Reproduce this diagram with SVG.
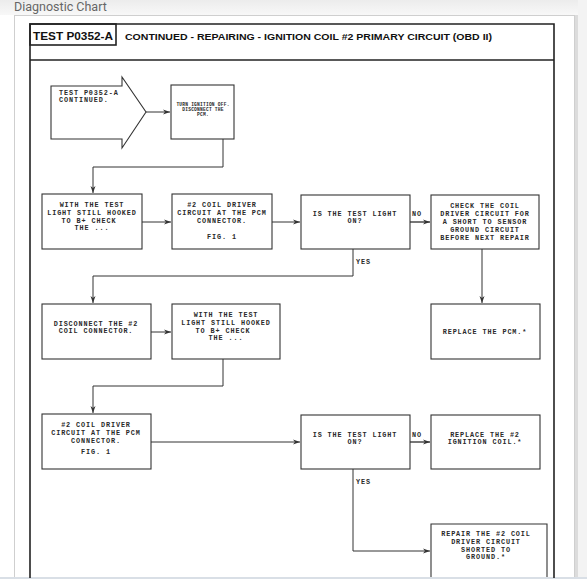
<svg xmlns="http://www.w3.org/2000/svg" width="587" height="579" viewBox="0 0 587 579">
<defs>
<linearGradient id="topbg" x1="0" y1="0" x2="0" y2="1">
<stop offset="0" stop-color="#ececec"/>
<stop offset="1" stop-color="#f8f8f8"/>
</linearGradient>
<marker id="ah" markerWidth="8" markerHeight="6" refX="7" refY="3" orient="auto" markerUnits="userSpaceOnUse">
<path d="M0,0.5 L7,3 L0,5.5 L2,3 Z" fill="#333"/>
</marker>
</defs>
<style>
.box{fill:#fff;stroke:#333;stroke-width:1.1}
.t{font-family:"Liberation Mono","DejaVu Sans Mono",monospace;font-size:6.8px;letter-spacing:0.9px;font-weight:bold;fill:#2a2a2a;text-anchor:middle}
.tl{font-family:"Liberation Mono","DejaVu Sans Mono",monospace;font-size:6.8px;letter-spacing:0.9px;font-weight:bold;fill:#2a2a2a}
.ts{font-family:"Liberation Mono","DejaVu Sans Mono",monospace;font-size:4.6px;letter-spacing:0.2px;font-weight:bold;fill:#2a2a2a;text-anchor:middle}
.c{fill:none;stroke:#333;stroke-width:1}
.cn{fill:none;stroke:#555;stroke-width:1.6}
.frame{fill:none;stroke:#222;stroke-width:1.6}
</style>
<!-- page background -->
<rect x="0" y="0" width="587" height="579" fill="#ffffff"/>
<rect x="0" y="0" width="587" height="15" fill="url(#topbg)"/>
<rect x="578" y="0" width="9" height="579" fill="#f3f3f3"/>
<rect x="14.5" y="15.5" width="560" height="570" fill="#fff" stroke="#cfcfcf" stroke-width="1"/>
<rect x="575" y="15" width="3" height="564" fill="#dcdcdc"/>
<rect x="0" y="577" width="587" height="2" fill="#d9dfe6"/>
<text x="14" y="10.5" font-family="Roboto,'Noto Sans',sans-serif" font-size="12.5" fill="#666">Diagnostic Chart</text>

<!-- chart frame -->
<g id="frame">
<path class="frame" d="M30,578 V24 H554 V578"/>
<line class="frame" x1="30" y1="60" x2="554" y2="60"/>
<rect x="30" y="24" width="86" height="21" fill="none" stroke="#222" stroke-width="1.6"/>
<text x="33" y="40" font-family="'Liberation Sans',Arial,sans-serif" font-weight="bold" font-size="11" textLength="80" lengthAdjust="spacingAndGlyphs" fill="#111">TEST P0352-A</text>
<text x="125" y="39.5" font-family="'Liberation Sans',Arial,sans-serif" font-weight="bold" font-size="8.6" textLength="367" lengthAdjust="spacingAndGlyphs" fill="#111">CONTINUED - REPAIRING - IGNITION COIL #2 PRIMARY CIRCUIT (OBD II)</text>
</g>

<!-- connectors -->
<g id="connectors">
<path class="c" d="M146,112 H170" marker-end="url(#ah)"/>
<path class="c" d="M223,139 V167 H93 V193" marker-end="url(#ah)"/>
<path class="c" d="M142,222 H171" marker-end="url(#ah)"/>
<path class="c" d="M272,222 H300" marker-end="url(#ah)"/>
<path class="cn" d="M410,222 H430" marker-end="url(#ah)"/>
<path class="c" d="M353,249 V276 H93 V303" marker-end="url(#ah)"/>
<path class="c" d="M482,249 V303" marker-end="url(#ah)"/>
<path class="c" d="M151,332 H171" marker-end="url(#ah)"/>
<path class="c" d="M223,359 V386 H93 V413" marker-end="url(#ah)"/>
<path class="c" d="M151,442 H300" marker-end="url(#ah)"/>
<path class="cn" d="M410,442 H430" marker-end="url(#ah)"/>
<path class="c" d="M353,469 V551 H430" marker-end="url(#ah)"/>
<text class="tl" x="412" y="216">NO</text>
<text class="tl" x="412" y="437">NO</text>
<text class="tl" x="356" y="264">YES</text>
<text class="tl" x="356" y="484">YES</text>
</g>

<g id="n1">
<path class="box" d="M51,86 H122 V77 L146,112 L122,148 V139 H51 Z"/>
<text class="tl" x="59" y="95">TEST P0352-A</text>
<text class="tl" x="59" y="102">CONTINUED.</text>
</g>
<g id="n2">
<rect class="box" x="171" y="85" width="63" height="54"/>
<text class="ts" x="203" y="106">TURN IGNITION OFF.</text>
<text class="ts" x="203" y="111">DISCONNECT THE</text>
<text class="ts" x="203" y="116">PCM.</text>
</g>
<g id="n3">
<rect class="box" x="42" y="194" width="100" height="55"/>
<text class="t" x="92" y="207">WITH THE TEST</text>
<text class="t" x="92" y="215">LIGHT STILL HOOKED</text>
<text class="t" x="89" y="222.5">TO B+ CHECK</text>
<text class="t" x="92" y="230">THE ...</text>
</g>
<g id="n4">
<rect class="box" x="172" y="194" width="100" height="55"/>
<text class="t" x="222" y="207">#2 COIL DRIVER</text>
<text class="t" x="222" y="215">CIRCUIT AT THE PCM</text>
<text class="t" x="222" y="222.5">CONNECTOR.</text>
<text class="t" x="222" y="239">FIG. 1</text>
</g>
<g id="n5">
<rect class="box" x="301" y="195" width="109" height="54"/>
<text class="t" x="355" y="215.5">IS THE TEST LIGHT</text>
<text class="t" x="355" y="223">ON?</text>
</g>
<g id="n6">
<rect class="box" x="431" y="195" width="108" height="54"/>
<text class="t" x="485" y="207.5">CHECK THE COIL</text>
<text class="t" x="485" y="215.5">DRIVER CIRCUIT FOR</text>
<text class="t" x="485" y="223.5">A SHORT TO SENSOR</text>
<text class="t" x="485" y="231.5">GROUND CIRCUIT</text>
<text class="t" x="485" y="239.5">BEFORE NEXT REPAIR</text>
</g>
<g id="n7">
<rect class="box" x="42" y="304" width="109" height="55"/>
<text class="t" x="96" y="325.5">DISCONNECT THE #2</text>
<text class="t" x="96" y="333">COIL CONNECTOR.</text>
</g>
<g id="n8">
<rect class="box" x="172" y="304" width="108" height="55"/>
<text class="t" x="226" y="317">WITH THE TEST</text>
<text class="t" x="226" y="325">LIGHT STILL HOOKED</text>
<text class="t" x="223" y="332.5">TO B+ CHECK</text>
<text class="t" x="226" y="340">THE ...</text>
</g>
<g id="n9">
<rect class="box" x="431" y="304" width="109" height="55"/>
<text class="t" x="485" y="333.5">REPLACE THE PCM.*</text>
</g>
<g id="n10">
<rect class="box" x="42" y="414" width="109" height="55"/>
<text class="t" x="96" y="427">#2 COIL DRIVER</text>
<text class="t" x="96" y="435">CIRCUIT AT THE PCM</text>
<text class="t" x="96" y="442.5">CONNECTOR.</text>
<text class="t" x="96" y="454">FIG. 1</text>
</g>
<g id="n11">
<rect class="box" x="301" y="415" width="109" height="54"/>
<text class="t" x="355" y="436.5">IS THE TEST LIGHT</text>
<text class="t" x="355" y="444">ON?</text>
</g>
<g id="n12">
<rect class="box" x="431" y="415" width="109" height="54"/>
<text class="t" x="485" y="436.5">REPLACE THE #2</text>
<text class="t" x="485" y="444">IGNITION COIL.*</text>
</g>
<g id="n13">
<path class="box" d="M431,577 V524 H547 V577"/>
<text class="t" x="486" y="535.5">REPAIR THE #2 COIL</text>
<text class="t" x="486" y="543.5">DRIVER CIRCUIT</text>
<text class="t" x="486" y="551.5">SHORTED TO</text>
<text class="t" x="486" y="559">GROUND.*</text>
</g>
</svg>
